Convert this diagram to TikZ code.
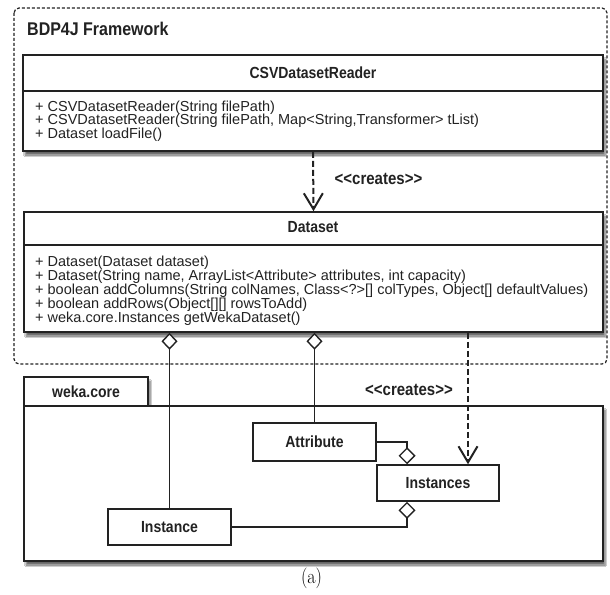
\documentclass[tikz,border=0pt]{standalone}
\usepackage{fontspec}
\newfontfamily\uml{Liberation Sans}
\usetikzlibrary{arrows.meta,shadows.blur}
\definecolor{ink}{HTML}{222222}
\newcommand\tallt[1]{\scalebox{1}[1.15]{#1}}
\begin{document}
\begin{tikzpicture}[x=1pt,y=-1pt,
  frame/.style={draw=ink, line width=1.2pt, dash pattern=on 3pt off 2pt, rounded corners=5pt},
  shad/.style={blur shadow={shadow xshift=2pt, shadow yshift=-4pt, shadow blur steps=6, shadow opacity=60}},
  classbox/.style={draw=ink, line width=1.6pt, fill=white, inner sep=0pt, shad},
  smallbox/.style={draw=ink, line width=1.5pt, fill=white, inner sep=0pt, font=\uml\bfseries\fontsize{14}{16}\selectfont, text=ink},
  boxline/.style={draw=ink, line width=1.5pt},
  titletext/.style={inner sep=0pt, anchor=base, font=\uml\bfseries\fontsize{14}{16}\selectfont, text=ink},
  meth/.style={inner sep=0pt, anchor=base west, font=\uml\fontsize{14.5}{14}\selectfont, text=ink},
  lbl/.style={inner sep=0pt, font=\uml\bfseries\fontsize{15}{17}\selectfont, text=ink},
  edge/.style={draw=ink, line width=1.4pt},
  agg/.style={edge, {Diamond[open, fill=white, length=17pt, width=16pt, line width=1.4pt]}-},
  aggend/.style={edge, -{Diamond[open, fill=white, length=17pt, width=17pt, line width=1.4pt]}},
  creates/.style={draw=ink, line width=2pt, dash pattern=on 6pt off 3pt, -{Straight Barb[length=16pt, width=19pt, line width=2pt]}}
]
\useasboundingbox (0,0) rectangle (610,594);
\fill[white] (0,0) rectangle (610,594);

% framework frame
\draw[frame] (14,8) rectangle (607,364);
\node[inner sep=0pt, anchor=base west, font=\uml\bfseries\fontsize{16}{18}\selectfont, text=ink] (bdp) at (27,36) {\tallt{BDP4J Framework}};

% CSVDatasetReader
\node[classbox, minimum width=580pt, minimum height=96pt] (csv) at (313,103) {};
\node[titletext] (csvtitle) at (313,78) {\tallt{CSVDatasetReader}};
\coordinate (sep1) at (0,91);
\draw[boxline] (csv.west |- sep1) -- (csv.east |- sep1);
\node[meth] (c1) at (35,111) {+ CSVDatasetReader(String filePath)};
\node[meth] (c2) at (35,124.5) {+ CSVDatasetReader(String filePath, Map<String,Transformer> tList)};
\node[meth] (c3) at (35,138) {+ Dataset loadFile()};

% Dataset
\node[classbox, minimum width=579pt, minimum height=120pt] (dataset) at (313.5,272) {};
\node[titletext] (dstitle) at (313,232) {\tallt{Dataset}};
\coordinate (sep2) at (0,245);
\draw[boxline] (dataset.west |- sep2) -- (dataset.east |- sep2);
\node[meth] (d1) at (35,266) {+ Dataset(Dataset dataset)};
\node[meth] (d2) at (35,280.2) {+ Dataset(String name, ArrayList<Attribute> attributes, int capacity)};
\node[meth] (d3) at (35,294.4) {+ boolean addColumns(String colNames, Class<?>[] colTypes, Object[] defaultValues)};
\node[meth] (d4) at (35,308.6) {+ boolean addRows(Object[][] rowsToAdd)};
\node[meth] (d5) at (35,322.8) {+ weka.core.Instances getWekaDataset()};

% creates arrow 1
\draw[creates] (csv.south) -- (dataset.north);
\node[lbl] (cr1) at (378.5,179) {\tallt{<<creates>>}};

% weka.core package
\node[classbox, minimum width=124pt, minimum height=29pt] (tab) at (86,391.5) {};
\node[titletext] (tabtitle) at (86,397) {\tallt{weka.core}};
\node[classbox, minimum width=579pt, minimum height=155pt] (weka) at (313.5,483.5) {};

% classes in weka.core
\node[smallbox, minimum width=123pt, minimum height=38pt] (attribute) at (314.5,442) {\tallt{Attribute}};
\node[smallbox, minimum width=122pt, minimum height=36pt] (instances) at (438,483) {\tallt{Instances}};
\node[smallbox, minimum width=123pt, minimum height=36pt] (instance) at (169.5,527) {\tallt{Instance}};

% aggregations from Dataset
\draw[agg] (instance.north |- dataset.south) -- (instance.north);
\draw[agg] (attribute.north |- dataset.south) -- (attribute.north);

% creates arrow 2
\coordinate (cx) at (468,0);
\draw[creates] (cx |- dataset.south) -- (cx |- instances.north);
\node[lbl] (cr2) at (409,390) {\tallt{<<creates>>}};

% aggregations into Instances
\coordinate (ax) at (407,0);
\draw[aggend] (attribute.east) -| (ax |- instances.north);
\draw[aggend] (instance.east) -| (ax |- instances.south);

% caption
\node[inner sep=0pt, font=\fontsize{18}{20}\selectfont] (cap) at (311.5,578) {\tallt{(a)}};
\end{tikzpicture}
\end{document}
